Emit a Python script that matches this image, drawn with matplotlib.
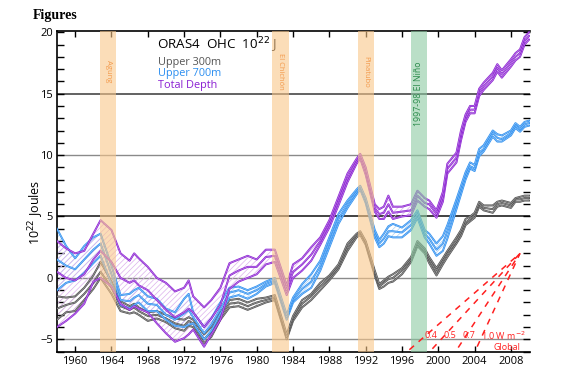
import numpy as np
import matplotlib.pyplot as plt

plt.rcParams['font.family'] = ['Open Sans', 'DejaVu Sans']
plt.rcParams['hatch.linewidth'] = 0.5

# time axis (years)
years = [1958, 1959, 1960, 1961, 1962, 1962.8, 1964, 1965, 1966, 1966.5,
         1967, 1968, 1969, 1970, 1971, 1972, 1972.5, 1973, 1974.2, 1975,
         1976, 1977, 1978, 1979, 1980, 1981, 1982, 1983.3, 1984, 1985,
         1986, 1987, 1988, 1989, 1990, 1991, 1991.4, 1992, 1993, 1993.5,
         1994, 1994.5, 1995, 1996, 1997, 1997.7, 1998.5, 1999, 1999.8, 2000.5,
         2001, 2002, 2002.5, 2003, 2003.5, 2004, 2004.5, 2005, 2006, 2006.5,
         2007, 2008, 2008.5, 2009, 2009.5, 2010]

# Upper 300m (low / mid / high members)
gray_lo = [-3.4, -2.8, -2.7, -1.8, -0.9, 0.0, -1.3, -2.7, -2.9, -2.8,
           -3.0, -3.5, -3.3, -3.6, -4.1, -4.3, -3.9, -4.0, -5.3, -4.8,
           -3.4, -2.4, -2.3, -2.6, -2.3, -2.0, -1.8, -5.0, -3.5, -2.4,
           -1.8, -1.0, -0.2, 0.7, 2.2, 3.3, 3.5, 2.7, 0.2, -0.9,
           -0.7, -0.4, -0.3, 0.3, 1.3, 2.6, 2.0, 1.2, 0.2, 1.1,
           1.7, 2.8, 3.4, 4.3, 4.6, 4.9, 5.8, 5.5, 5.3, 5.8,
           5.9, 5.7, 6.2, 6.2, 6.3, 6.3]
gray_mid = [-2.5, -2.2, -2.0, -1.3, -0.4, 0.5, -0.8, -2.3, -2.6, -2.4,
            -2.7, -3.1, -3.0, -3.3, -3.7, -3.9, -3.5, -3.7, -5.0, -4.4,
            -3.1, -2.1, -2.0, -2.3, -2.0, -1.8, -1.6, -4.8, -3.3, -2.1,
            -1.5, -0.7, 0.0, 0.9, 2.5, 3.5, 3.7, 2.9, 0.4, -0.7,
            -0.4, -0.1, 0.0, 0.6, 1.5, 2.8, 2.2, 1.5, 0.5, 1.4,
            2.0, 3.0, 3.7, 4.5, 4.8, 5.1, 6.0, 5.7, 5.6, 6.0,
            6.1, 5.9, 6.4, 6.4, 6.5, 6.5]
gray_hi = [-1.5, -1.6, -1.5, -0.8, 0.2, 1.3, -0.3, -1.9, -2.3, -2.1,
           -2.4, -2.8, -2.7, -3.0, -3.3, -3.4, -3.2, -3.4, -4.6, -4.0,
           -2.8, -1.8, -1.7, -2.0, -1.7, -1.6, -1.4, -4.6, -3.1, -1.8,
           -1.3, -0.4, 0.2, 1.1, 2.8, 3.6, 3.8, 3.0, 0.6, -0.5,
           -0.2, 0.1, 0.3, 0.8, 1.7, 3.0, 2.4, 1.7, 0.8, 1.6,
           2.2, 3.3, 3.9, 4.8, 5.0, 5.3, 6.2, 5.9, 5.9, 6.2,
           6.3, 6.1, 6.5, 6.6, 6.7, 6.7]

# Upper 700m
blue_lo = [-1.0, -0.4, -0.2, 0.4, 1.2, 1.8, -0.5, -2.2, -2.5, -2.2,
           -2.0, -2.7, -2.7, -3.4, -3.9, -4.0, -3.8, -3.7, -5.0, -4.3,
           -2.9, -1.6, -1.4, -1.7, -1.3, -0.7, -0.4, -3.4, -2.0, -1.3,
           -0.8, 0.6, 2.5, 4.4, 5.7, 6.8, 7.2, 6.1, 3.3, 2.5,
           2.8, 3.4, 3.3, 3.3, 3.9, 4.9, 3.3, 2.8, 1.8, 2.2,
           3.2, 5.6, 6.8, 8.0, 8.9, 8.7, 9.9, 10.3, 11.5, 11.1,
           11.1, 11.6, 12.2, 11.9, 12.3, 12.4]
blue_mid = [1.5, 1.0, 0.7, 1.5, 2.3, 2.8, 0.3, -1.8, -1.9, -1.6,
            -1.4, -2.1, -2.2, -3.0, -3.4, -2.9, -2.6, -3.2, -4.5, -3.8,
            -2.5, -1.2, -1.0, -1.3, -1.0, -0.5, -0.2, -3.2, -1.8, -0.9,
            -0.3, 1.0, 2.9, 4.8, 6.0, 7.0, 7.4, 6.3, 3.6, 2.8,
            3.2, 3.8, 3.8, 3.7, 4.3, 5.2, 3.6, 3.2, 2.3, 2.8,
            3.8, 6.0, 7.2, 8.3, 9.1, 8.9, 10.2, 10.5, 11.8, 11.4,
            11.3, 11.8, 12.4, 12.1, 12.5, 12.6]
blue_hi = [4.0, 2.6, 1.6, 2.6, 3.3, 3.6, 1.0, -1.4, -1.3, -1.0,
           -0.8, -1.5, -1.7, -2.5, -2.8, -1.7, -1.3, -2.8, -4.0, -3.3,
           -2.0, -0.8, -0.7, -1.0, -0.7, -0.3, 0.0, -3.0, -1.6, -0.5,
           0.3, 1.4, 3.3, 5.2, 6.3, 7.2, 7.5, 6.5, 3.9, 3.1,
           3.6, 4.2, 4.4, 4.1, 4.7, 5.5, 3.9, 3.6, 2.8, 3.4,
           4.3, 6.4, 7.5, 8.6, 9.4, 9.2, 10.5, 10.8, 12.0, 11.7,
           11.6, 12.0, 12.6, 12.3, 12.7, 12.8]

# Total depth
purple_lo = [-4.0, -3.5, -2.9, -2.1, -0.3, 0.0, -0.7, -2.1, -2.6, -2.3,
             -2.5, -2.8, -3.7, -4.5, -5.2, -4.9, -4.6, -4.2, -5.6, -4.6,
             -3.4, -0.9, -0.3, 0.0, 0.3, 1.1, 1.3, -1.4, 0.0, 0.6,
             1.4, 2.7, 4.1, 5.9, 7.8, 9.3, 9.7, 8.4, 5.4, 4.8,
             4.8, 5.4, 4.8, 5.0, 5.1, 6.3, 5.8, 5.6, 4.9, 6.2,
             8.5, 9.4, 11.2, 12.7, 13.4, 13.4, 14.8, 15.3, 16.1, 16.8,
             16.3, 17.2, 17.7, 18.0, 19.0, 19.4]
purple_mid = [0.5, 0.0, -0.2, 0.3, 1.5, 2.2, 1.3, 0.0, -0.4, -0.2,
              -0.6, -1.0, -1.8, -2.6, -3.2, -2.8, -2.5, -2.8, -4.0, -3.3,
              -2.2, 0.2, 0.6, 0.9, 0.9, 1.7, 1.8, -1.0, 0.5, 1.1,
              1.9, 3.0, 4.4, 6.3, 8.1, 9.5, 9.9, 8.7, 5.7, 5.2,
              5.3, 6.0, 5.3, 5.4, 5.5, 6.7, 6.1, 6.0, 5.2, 6.6,
              8.9, 9.8, 11.6, 13.0, 13.7, 13.7, 15.1, 15.6, 16.4, 17.1,
              16.6, 17.5, 18.0, 18.3, 19.3, 19.7]
purple_hi = [3.0, 2.4, 2.0, 2.2, 3.6, 4.7, 3.9, 2.0, 1.4, 2.0,
             1.6, 0.9, 0.0, -0.4, -1.1, -0.8, -0.2, -1.5, -2.4, -1.8,
             -0.8, 1.2, 1.5, 1.8, 1.5, 2.3, 2.3, -0.6, 1.1, 1.6,
             2.5, 3.3, 4.7, 6.6, 8.5, 9.7, 10.1, 9.0, 6.0, 5.6,
             5.8, 6.7, 5.8, 5.8, 6.0, 7.1, 6.5, 6.3, 5.5, 7.0,
             9.3, 10.2, 12.0, 13.3, 14.0, 14.0, 15.4, 15.9, 16.7, 17.4,
             16.9, 17.8, 18.3, 18.6, 19.6, 20.0]

# volcanic eruptions and El Nino
volcano_names = ['Agung', 'El Chichón', 'Pinatubo']
volcano_start = [1962.75, 1981.7, 1991.2]
volcano_end = [1964.5, 1983.5, 1992.9]
nino_start, nino_end = 1997.0, 1998.7

# heating rate reference lines (W m-2, global)
rates = [0.4, 0.5, 0.7, 1.0]
rate_labels = ['0.4', '0.5', '0.7', '1.0 W m$^{-2}$']
rate_label_x = [1998.5, 2000.6, 2002.7, 2004.7]

fig = plt.figure(figsize=(5.68, 3.79), dpi=100)
ax = fig.add_axes([57/568, 1-352/379, (530-57)/568, (352-31)/379])

t = np.array(years)
series = [
    (gray_lo, gray_mid, gray_hi, '#4e4e4e', '#c4c4c4'),
    (blue_lo, blue_mid, blue_hi, '#2b8ef0', '#a9d0f5'),
    (purple_lo, purple_mid, purple_hi, '#8a1fd2', '#dcb0ec'),
]
for lo, mid, hi, col, hcol in series:
    ax.fill_between(t, lo, hi, facecolor='none', edgecolor=hcol, hatch='//////', lw=0, zorder=2)
for lo, mid, hi, col, hcol in series:
    for member in (lo, mid, hi):
        ax.plot(t, member, color=col, lw=1.4, zorder=3)
        ax.plot(t, member, color='white', lw=0.35, alpha=0.6, zorder=3)

# horizontal reference lines
for yv, c, w in [(-5, '#8a8a8a', 1.0), (0, '#8a8a8a', 1.0), (5, '#333333', 1.3),
                 (10, '#8a8a8a', 1.0), (15, '#555555', 1.3)]:
    ax.axhline(yv, color=c, lw=w, zorder=1)

for name, s, e in zip(volcano_names, volcano_start, volcano_end):
    ax.axvspan(s, e, color='#f9c78a', alpha=0.6, lw=0, zorder=4)
    ax.text((s + e) / 2, 16.8, name, rotation=270, ha='center', va='center',
            fontsize=5.5, color='#f39a4c', zorder=5)
ax.axvspan(nino_start, nino_end, color='#8ccaa2', alpha=0.6, lw=0, zorder=4)
ax.text((nino_start + nino_end) / 2, 15.0, '1997-98 El Niño', rotation=90,
        ha='center', va='center', fontsize=6.3, color='#2a8a4a', zorder=5)

# heating rate lines
end_year, end_val = 2009.0, 2.0
conv = 5.1e14 * 3.156e7 / 1e22
for r in rates:
    x0 = end_year - (end_val + 6.5) / (r * conv)
    xs = np.array([x0, end_year])
    ax.plot(xs, end_val - r * conv * (end_year - xs), color='#ff2020', lw=1.1,
            dashes=(4, 4), zorder=6)
for lab, xl in zip(rate_labels, rate_label_x):
    ax.text(xl, -4.7, lab, fontsize=6.5, color='#ff2020', ha='left', va='center', zorder=7)
ax.text(2007.6, -5.65, 'Global', fontsize=6.5, color='#ff2020', ha='center', va='center', zorder=7)

# legend text
ax.text(1969.0, 18.9, 'ORAS4  OHC  10$^{22}$ J', fontsize=9.6, color='black', ha='left', va='center')
ax.text(1969.1, 17.5, 'Upper 300m', fontsize=7.8, color='#555555', ha='left', va='center')
ax.text(1969.1, 16.6, 'Upper 700m', fontsize=7.8, color='#2b8ef0', ha='left', va='center')
ax.text(1969.1, 15.65, 'Total Depth', fontsize=7.8, color='#8a1fd2', ha='left', va='center')

ax.set_xlim(1958.0, 2010.1)
ax.set_ylim(-6.03, 20.1)
ax.set_xticks(range(1960, 2010, 4))
ax.set_yticks([-5, 0, 5, 10, 15, 20])
ax.set_yticks(range(-6, 21), minor=True)
ax.tick_params(axis='both', direction='in', labelsize=8, length=5, width=1,
               top=True, right=True, pad=3)
ax.tick_params(axis='y', which='minor', direction='in', length=5, width=1, right=True)
ax.tick_params(axis='x', which='major', length=4)
ax.spines['right'].set_visible(False)
for sp in ['left', 'bottom', 'top']:
    ax.spines[sp].set_linewidth(1.2)

fig.text(36/568, 1-212/379, '10$^{22}$ Joules', rotation=90, ha='center', va='center', fontsize=9)
fig.text(33/568, 1-15/379, 'Figures', fontsize=10, fontweight='bold',
         family='Liberation Serif', ha='left', va='center')

fig.savefig('out.png', dpi=100)
